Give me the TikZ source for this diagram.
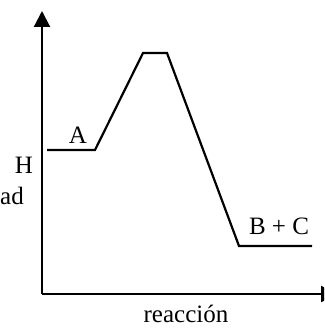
\documentclass[tikz,border=0pt]{standalone}
\usepackage{fontspec}
\setmainfont{Liberation Serif}
\usetikzlibrary{arrows.meta}

\begin{document}
\begin{tikzpicture}[x=1pt,y=-1pt,>={Triangle[length=16pt,width=16pt]},
  font=\fontsize{25}{29}\selectfont,
  axis/.style={line width=2.2pt,->},
  curve/.style={line width=2.2pt,line join=miter}]
  \useasboundingbox (0,0) rectangle (324,329);
  \clip (0,0) rectangle (324,329);
  % axes
  \coordinate (origin) at (42,294);
  \coordinate (ytop) at (42,11);
  \coordinate (xend) at (337,294);
  \draw[axis] (origin) -- (ytop);
  \draw[axis] (origin) -- (xend);
  % energy profile
  \coordinate (startA) at (47,150);
  \coordinate (endA) at (95,150);
  \coordinate (peakL) at (143,53);
  \coordinate (peakR) at (167,53);
  \coordinate (startBC) at (239,246);
  \coordinate (endBC) at (312,246);
  \draw[curve] (startA) -- (endA) -- (peakL) -- (peakR) -- (startBC) -- (endBC);
  % labels
  \node (labA) at (78,135) {A};
  \node (labBC) at (279,226) {B + C};
  \node (labH) at (24,165) {H};
  \node[anchor=west,inner sep=0pt] (labad) at (0,196) {ad};
  \node[inner sep=0pt] (labx) at (186,314) {reacción};
\end{tikzpicture}
\end{document}
